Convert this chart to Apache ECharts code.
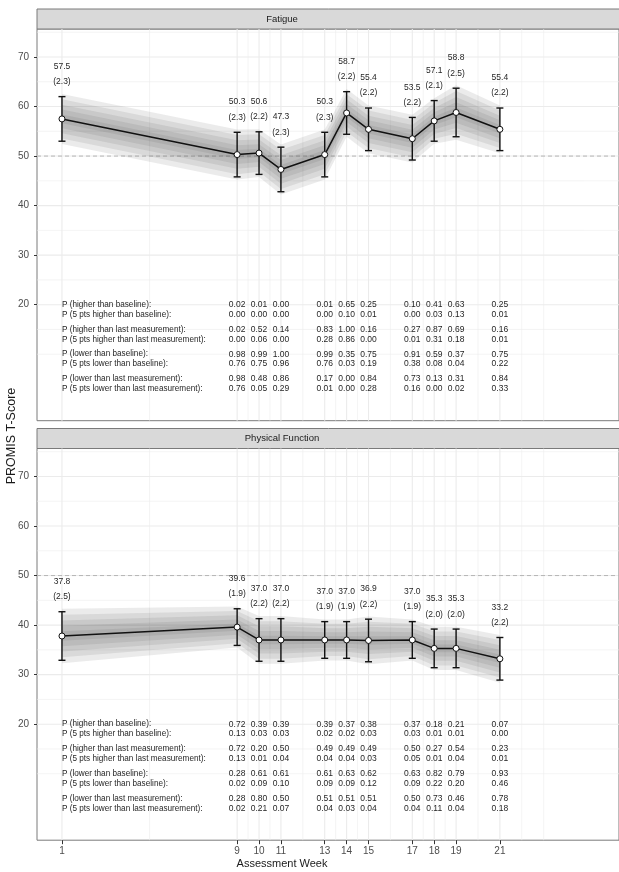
<!DOCTYPE html>
<html><head><meta charset="utf-8">
<script src="https://cdn.jsdelivr.net/npm/echarts@6/dist/echarts.min.js"></script>
<style>html,body{margin:0;padding:0;background:#fff}#c{width:619px;height:872px}</style>
</head><body><div id="c"></div><script>
// ---------- data ----------
const weeks = [1, 9, 10, 11, 13, 14, 15, 17, 18, 19, 21];
const panelTitles = ['Fatigue', 'Physical Function'];

const fatigueMean = [57.5, 50.3, 50.6, 47.3, 50.3, 58.7, 55.4, 53.5, 57.1, 58.8, 55.4];
const fatigueSE   = [2.3, 2.3, 2.2, 2.3, 2.3, 2.2, 2.2, 2.2, 2.1, 2.5, 2.2];
const fatigueLo   = [53.0, 45.8, 46.3, 42.8, 45.8, 54.4, 51.1, 49.2, 53.0, 53.9, 51.1];
const fatigueHi   = [62.0, 54.8, 54.9, 51.8, 54.8, 63.0, 59.7, 57.8, 61.2, 63.7, 59.7];

const physMean = [37.8, 39.6, 37.0, 37.0, 37.0, 37.0, 36.9, 37.0, 35.3, 35.3, 33.2];
const physSE   = [2.5, 1.9, 2.2, 2.2, 1.9, 1.9, 2.2, 1.9, 2.0, 2.0, 2.2];
const physLo   = [32.9, 35.9, 32.7, 32.7, 33.3, 33.3, 32.6, 33.3, 31.4, 31.4, 28.9];
const physHi   = [42.7, 43.3, 41.3, 41.3, 40.7, 40.7, 41.2, 40.7, 39.2, 39.2, 37.5];

const rowLabels = [
  'P (higher than baseline):',
  'P (5 pts higher than baseline):',
  'P (higher than last measurement):',
  'P (5 pts higher than last measurement):',
  'P (lower than baseline):',
  'P (5 pts lower than baseline):',
  'P (lower than last measurement):',
  'P (5 pts lower than last measurement):'
];
const rowY = [20, 18, 15, 13, 10, 8, 5, 3];

// columns: weeks 9,10,11,13,14,15,17,18,19,21
const fatHigherBase     = [0.02, 0.01, 0.00, 0.01, 0.65, 0.25, 0.10, 0.41, 0.63, 0.25];
const fatHigher5Base    = [0.00, 0.00, 0.00, 0.00, 0.10, 0.01, 0.00, 0.03, 0.13, 0.01];
const fatHigherLast     = [0.02, 0.52, 0.14, 0.83, 1.00, 0.16, 0.27, 0.87, 0.69, 0.16];
const fatHigher5Last    = [0.00, 0.06, 0.00, 0.28, 0.86, 0.00, 0.01, 0.31, 0.18, 0.01];
const fatLowerBase      = [0.98, 0.99, 1.00, 0.99, 0.35, 0.75, 0.91, 0.59, 0.37, 0.75];
const fatLower5Base     = [0.76, 0.75, 0.96, 0.76, 0.03, 0.19, 0.38, 0.08, 0.04, 0.22];
const fatLowerLast      = [0.98, 0.48, 0.86, 0.17, 0.00, 0.84, 0.73, 0.13, 0.31, 0.84];
const fatLower5Last     = [0.76, 0.05, 0.29, 0.01, 0.00, 0.28, 0.16, 0.00, 0.02, 0.33];

const physHigherBase    = [0.72, 0.39, 0.39, 0.39, 0.37, 0.38, 0.37, 0.18, 0.21, 0.07];
const physHigher5Base   = [0.13, 0.03, 0.03, 0.02, 0.02, 0.03, 0.03, 0.01, 0.01, 0.00];
const physHigherLast    = [0.72, 0.20, 0.50, 0.49, 0.49, 0.49, 0.50, 0.27, 0.54, 0.23];
const physHigher5Last   = [0.13, 0.01, 0.04, 0.04, 0.04, 0.03, 0.05, 0.01, 0.04, 0.01];
const physLowerBase     = [0.28, 0.61, 0.61, 0.61, 0.63, 0.62, 0.63, 0.82, 0.79, 0.93];
const physLower5Base    = [0.02, 0.09, 0.10, 0.09, 0.09, 0.12, 0.09, 0.22, 0.20, 0.46];
const physLowerLast     = [0.28, 0.80, 0.50, 0.51, 0.51, 0.51, 0.50, 0.73, 0.46, 0.78];
const physLower5Last    = [0.02, 0.21, 0.07, 0.04, 0.03, 0.04, 0.04, 0.11, 0.04, 0.18];

const yTicks = [20, 30, 40, 50, 60, 70];
const yMinorBreaks = [10, 15, 25, 35, 45, 55, 65, 75];
const xMinorBreaks = [5, 9.5, 10.5, 12, 13.5, 14.5, 16, 17.5, 18.5, 20, 22, 23];
const referenceLine = 50;

// ---------- layout ----------
const X_MIN = -0.14, X_MAX = 26.44;
const Y_MIN = -3.42, Y_MAX = 75.65;
const FONT = '"Liberation Sans", Arial, Helvetica, sans-serif';
const GL = 37, GW = 583, GH = 391.7;
const GTOP = [29, 448.5];
const STRIP_H = 20;
const bandFactors = [1.12, 0.88, 0.64, 0.42, 0.2];

const panels = [
  { mean: fatigueMean, se: fatigueSE, lo: fatigueLo, hi: fatigueHi,
    table: [fatHigherBase, fatHigher5Base, fatHigherLast, fatHigher5Last, fatLowerBase, fatLower5Base, fatLowerLast, fatLower5Last] },
  { mean: physMean, se: physSE, lo: physLo, hi: physHi,
    table: [physHigherBase, physHigher5Base, physHigherLast, physHigher5Last, physLowerBase, physLower5Base, physLowerLast, physLower5Last] }
];

function txt(x, y, s, align, size, color) {
  return { type: 'text', x: x, y: y, style: { text: s, fill: color || '#262626',
    font: (size || 9) + 'px ' + FONT, align: align || 'center', verticalAlign: 'middle',
    textAlign: align || 'center', textVerticalAlign: 'middle' } };
}

function gridRender(params, api) {
  const cs = params.coordSys;
  const ch = [];
  const minor = { stroke: '#ededed', lineWidth: 0.6 };
  const major = { stroke: '#ebebeb', lineWidth: 1.1 };
  xMinorBreaks.forEach(v => { const px = api.coord([v, 0])[0];
    ch.push({ type: 'line', shape: { x1: px, y1: cs.y, x2: px, y2: cs.y + cs.height }, style: minor }); });
  yMinorBreaks.forEach(v => { const py = api.coord([0, v])[1];
    ch.push({ type: 'line', shape: { x1: cs.x, y1: py, x2: cs.x + cs.width, y2: py }, style: minor }); });
  weeks.forEach(v => { const px = api.coord([v, 0])[0];
    ch.push({ type: 'line', shape: { x1: px, y1: cs.y, x2: px, y2: cs.y + cs.height }, style: major }); });
  yTicks.forEach(v => { const py = api.coord([0, v])[1];
    ch.push({ type: 'line', shape: { x1: cs.x, y1: py, x2: cs.x + cs.width, y2: py }, style: major }); });
  const ry = api.coord([0, referenceLine])[1];
  ch.push({ type: 'line', shape: { x1: cs.x, y1: ry, x2: cs.x + cs.width, y2: ry },
    style: { stroke: '#b5b5b5', lineWidth: 1, lineDash: [4, 3] } });
  return { type: 'group', children: ch };
}

function bandRender(p) {
  return function (params, api) {
    const i = api.value(0);
    if (i >= weeks.length - 1) return;
    const ch = [];
    bandFactors.forEach(f => {
      const t0 = api.coord([weeks[i], p.mean[i] + f * (p.hi[i] - p.mean[i])]);
      const t1 = api.coord([weeks[i + 1], p.mean[i + 1] + f * (p.hi[i + 1] - p.mean[i + 1])]);
      const b1 = api.coord([weeks[i + 1], p.mean[i + 1] - f * (p.mean[i + 1] - p.lo[i + 1])]);
      const b0 = api.coord([weeks[i], p.mean[i] - f * (p.mean[i] - p.lo[i])]);
      ch.push({ type: 'polygon', shape: { points: [t0, t1, b1, b0] },
        style: { fill: 'rgba(70,70,70,0.11)', stroke: null } });
    });
    return { type: 'group', children: ch };
  };
}

function errRender(params, api) {
  const x = api.value(0);
  const a = api.coord([x, api.value(1)]);
  const b = api.coord([x, api.value(2)]);
  const st = { stroke: '#111', lineWidth: 1.4 };
  return { type: 'group', children: [
    { type: 'line', shape: { x1: a[0], y1: a[1], x2: b[0], y2: b[1] }, style: st },
    { type: 'line', shape: { x1: a[0] - 3.5, y1: a[1], x2: a[0] + 3.5, y2: a[1] }, style: st },
    { type: 'line', shape: { x1: b[0] - 3.5, y1: b[1], x2: b[0] + 3.5, y2: b[1] }, style: st }
  ] };
}

function labelRender(p) {
  return function (params, api) {
    const i = api.value(0);
    const m = api.coord([weeks[i], p.hi[i] + 6.1]);
    const s = api.coord([weeks[i], p.hi[i] + 3.0]);
    return { type: 'group', children: [
      txt(m[0], m[1], p.mean[i].toFixed(1), 'center', 8.5),
      txt(s[0], s[1], '(' + p.se[i].toFixed(1) + ')', 'center', 8.5)
    ] };
  };
}

function tableRender(p) {
  return function (params, api) {
    const r = api.value(0);
    const ch = [];
    const l = api.coord([weeks[0], rowY[r]]);
    ch.push(txt(l[0], l[1], rowLabels[r], 'left', 8.2));
    p.table[r].forEach((v, c) => {
      const q = api.coord([weeks[c + 1], rowY[r]]);
      ch.push(txt(q[0], q[1], v.toFixed(2), 'center', 8.5));
    });
    return { type: 'group', children: ch };
  };
}

const grids = [], xAxes = [], yAxes = [], series = [], graphics = [];
panels.forEach((p, k) => {
  grids.push({ left: GL, top: GTOP[k], width: GW, height: GH, show: true,
    borderColor: '#7a7a7a', borderWidth: 1, backgroundColor: '#fff' });
  const bottom = k === panels.length - 1;
  xAxes.push({ type: 'value', gridIndex: k, min: X_MIN, max: X_MAX, position: 'bottom',
    axisLine: { show: false, onZero: false }, splitLine: { show: false },
    axisTick: { show: bottom, customValues: weeks, length: 4, lineStyle: { color: '#333' } },
    axisLabel: { show: bottom, customValues: weeks, fontSize: 10, color: '#4d4d4d', margin: 6, fontFamily: FONT } });
  yAxes.push({ type: 'value', gridIndex: k, min: Y_MIN, max: Y_MAX,
    axisLine: { show: false, onZero: false }, splitLine: { show: false },
    axisTick: { show: true, customValues: yTicks, length: 3, lineStyle: { color: '#333' } },
    axisLabel: { customValues: yTicks, fontSize: 10, color: '#4d4d4d', margin: 8, fontFamily: FONT } });
  series.push({ type: 'custom', xAxisIndex: k, yAxisIndex: k, renderItem: gridRender,
    data: [[0, 0]], z: 0, silent: true });
  series.push({ type: 'custom', xAxisIndex: k, yAxisIndex: k, renderItem: bandRender(p),
    data: weeks.map((w, i) => [i, p.mean[i]]), z: 1, silent: true, clip: true });
  series.push({ type: 'custom', xAxisIndex: k, yAxisIndex: k, renderItem: errRender,
    data: weeks.map((w, i) => [w, p.lo[i], p.hi[i]]), z: 3, silent: true });
  series.push({ type: 'line', xAxisIndex: k, yAxisIndex: k,
    data: weeks.map((w, i) => [w, p.mean[i]]), z: 4, silent: true,
    symbol: 'circle', symbolSize: 6, showAllSymbol: true,
    lineStyle: { color: '#111', width: 1.5 },
    itemStyle: { color: '#fff', borderColor: '#111', borderWidth: 1 } });
  series.push({ type: 'custom', xAxisIndex: k, yAxisIndex: k, renderItem: labelRender(p),
    data: weeks.map((w, i) => [i, p.hi[i]]), z: 5, silent: true });
  series.push({ type: 'custom', xAxisIndex: k, yAxisIndex: k, renderItem: tableRender(p),
    data: rowY.map((y, r) => [r, y]), z: 5, silent: true });
  const sy = GTOP[k] - STRIP_H;
  graphics.push({ type: 'rect', shape: { x: GL, y: sy, width: GW, height: STRIP_H },
    style: { fill: '#d9d9d9', stroke: '#7a7a7a', lineWidth: 1 } });
  graphics.push({ type: 'text', x: 282, y: sy + STRIP_H / 2,
    style: { text: panelTitles[k], font: '9.5px ' + FONT, fill: '#1a1a1a', align: 'center', verticalAlign: 'middle' } });
});
graphics.push({ type: 'text', x: 12, y: 436, rotation: Math.PI / 2,
  style: { text: 'PROMIS T-Score', font: '12.5px ' + FONT, fill: '#1a1a1a', align: 'center', verticalAlign: 'middle' } });
graphics.push({ type: 'text', x: 282, y: 864,
  style: { text: 'Assessment Week', font: '11px ' + FONT, fill: '#1a1a1a', align: 'center', verticalAlign: 'middle' } });

const chart = echarts.init(document.getElementById('c'), null, { renderer: 'canvas' });
chart.setOption({
  animation: false,
  backgroundColor: '#fff',
  grid: grids, xAxis: xAxes, yAxis: yAxes, series: series, graphic: graphics
});
</script></body></html>
